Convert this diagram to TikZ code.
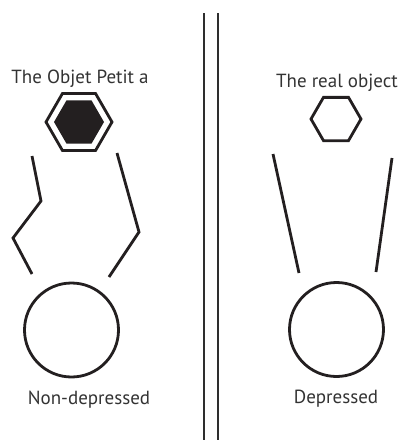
\documentclass[tikz,border=0pt]{standalone}
\usepackage{fontspec}
\setmainfont{PT Sans}
\usetikzlibrary{positioning}
\definecolor{cink}{HTML}{231F20}
\definecolor{ctext}{HTML}{333333}
\definecolor{crule}{HTML}{2E2E2E}
\tikzset{
  stroke/.style={draw=cink, line width=2.8pt, line join=miter},
  rulebar/.style={draw=crule, line width=2pt},
  lbltext/.style={text=ctext, font=\fontsize{19}{22}\selectfont, inner sep=0pt},
}

\begin{document}
\begin{tikzpicture}[x=1pt, y=-1pt]
\useasboundingbox (0,0) rectangle (400,440);
\coordinate (hexL) at (79,122);
\coordinate (hexR) at (336,119);
\coordinate (headL) at (71.5,330);
\coordinate (headR) at (336.5,329.5);
% divider
\draw[rulebar] (204,13) -- (204,440);
\draw[rulebar] (218,13) -- (218,440);
% left: non-depressed
\node[lbltext] (objL) at (80,79) {The Objet Petit a};
\draw[stroke] (hexL) +(0:33) -- +(60:33) -- +(120:33) -- +(180:33) -- +(240:33) -- +(300:33) -- cycle;
\fill[cink] (hexL) +(0:25) -- +(60:25) -- +(120:25) -- +(180:25) -- +(240:25) -- +(300:25) -- cycle;
\draw[stroke] (32,156) -- (41,201) -- (13,238) -- (32,274);
\draw[stroke] (117,153) -- (139,232) -- (109,277);
\draw[stroke] (headL) circle[radius=47pt];
\node[lbltext] (txtL) at (89,400) {Non-depressed};
% right: depressed
\node[lbltext] (objR) at (337,83) {The real object};
\draw[stroke] (hexR) +(0:25) -- +(60:25) -- +(120:25) -- +(180:25) -- +(240:25) -- +(300:25) -- cycle;
\draw[stroke] (273,154) -- (299,273);
\draw[stroke] (392,158) -- (376,272);
\draw[stroke] (headR) circle[radius=47pt];
\node[lbltext] (txtR) at (336,399) {Depressed};
\end{tikzpicture}
\end{document}
